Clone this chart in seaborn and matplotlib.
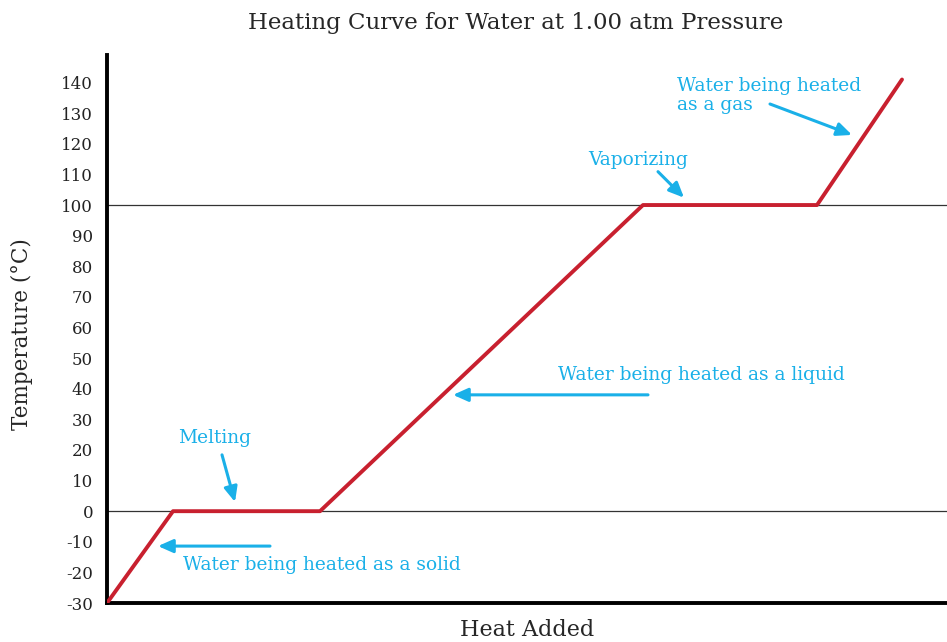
import matplotlib
matplotlib.use("Agg")
import matplotlib.pyplot as plt
import seaborn as sns
import pandas as pd

# Heating curve breakpoints (heat added in arbitrary units, temperature in °C)
heat_added = [0.0, 6.6, 21.3, 53.6, 71.0, 79.5]
temperature = [-30, 0, 0, 100, 100, 141]
y_ticks = [-30, -20, -10, 0, 10, 20, 30, 40, 50, 60, 70, 80, 90, 100, 110, 120, 130, 140]
ref_levels = [0, 100]

RED = "#c8202f"
BLUE = "#1ab0e8"
FONT = ["DejaVu Serif"]

sns.set_style("white")
plt.rcParams["font.family"] = FONT

df = pd.DataFrame({"heat": heat_added, "temp": temperature})

fig = plt.figure(figsize=(9.47, 6.42), dpi=100)
ax = fig.add_axes([0.113, 0.0607, 0.887, 0.8536])

for lvl in ref_levels:
    ax.axhline(lvl, color="#333333", lw=0.9, zorder=1)

sns.lineplot(data=df, x="heat", y="temp", color=RED, lw=2.8, ax=ax, zorder=3)

ax.set_xlim(0, 84)
ax.set_ylim(-30, 149)
ax.set_xticks([])
ax.set_yticks(y_ticks)
ax.set_yticklabels([str(t) for t in y_ticks], fontsize=12, color="#222222")
ax.tick_params(axis="y", length=0, pad=10)

for side in ["top", "right"]:
    ax.spines[side].set_visible(False)
for side in ["left", "bottom"]:
    ax.spines[side].set_linewidth(2.8)
    ax.spines[side].set_color("black")

ax.set_xlabel("Heat Added", fontsize=16)
ax.xaxis.set_label_coords(0.5, -0.03, transform=ax.transAxes)
ax.xaxis.label.set_va("top")
ax.set_ylabel("Temperature (°C)", fontsize=15.5)
ax.yaxis.set_label_coords(-0.101, 0.49)
ax.yaxis.label.set_va("center")
fig.suptitle("Heating Curve for Water at 1.00 atm Pressure", fontsize=16.5,
             x=0.545, y=0.982)

arrow = dict(arrowstyle="-|>,head_length=0.9,head_width=0.4", color=BLUE, lw=2.2,
             shrinkA=0, shrinkB=0)

def note(text, xytext, ha="left"):
    ax.annotate(text, xy=xytext, xytext=xytext, color=BLUE, fontsize=13.4,
                ha=ha, va="center", linespacing=1.05)

note("Melting", (10.8, 23.9), ha="center")
ax.annotate("", xy=(12.8, 3.0), xytext=(11.5, 18.4), arrowprops=arrow)

note("Water being heated as a solid", (7.6, -17.6))
ax.annotate("", xy=(5.1, -11.4), xytext=(16.3, -11.4), arrowprops=arrow)

note("Water being heated as a liquid", (45.1, 44.5))
ax.annotate("", xy=(34.6, 38.0), xytext=(54.1, 38.0), arrowprops=arrow)

note("Vaporizing", (48.1, 114.8))
ax.annotate("", xy=(57.7, 102.4), xytext=(55.1, 110.9), arrowprops=arrow)

note("Water being heated\nas a gas", (57.0, 135.8))
ax.annotate("", xy=(74.5, 122.9), xytext=(66.3, 133.0), arrowprops=arrow)

fig.savefig("out.png", dpi=100)
